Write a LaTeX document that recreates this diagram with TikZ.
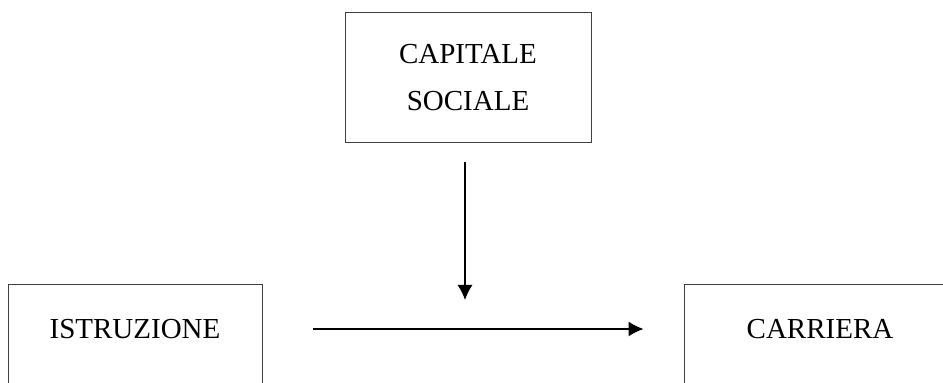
\documentclass[tikz,border=0pt]{standalone}
\usepackage{fontspec}
\setmainfont{Liberation Serif}
\usetikzlibrary{arrows.meta}

\begin{document}
\begin{tikzpicture}[x=1pt, y=1pt,
    box/.style={draw=black!75, line width=1pt, inner sep=0pt, align=center,
        font=\fontsize{29}{47}\selectfont},
    lowbox/.style={box, anchor=north, text height=54pt, text depth=76pt},
    freccia/.style={line width=1.2pt, -{Latex[length=15pt, width=15pt]}}]
    \clip (0, 0) rectangle (943, 383);

    \node[box, minimum width=246pt, minimum height=130pt] (capitale) at (468, 305) {CAPITALE\\SOCIALE};
    \node[lowbox, minimum width=254pt] (istruzione) at (135, 99) {ISTRUZIONE};
    \node[lowbox, minimum width=272pt] (carriera) at (820, 99) {CARRIERA};

    \coordinate (mid) at (465, 54);
    \draw[freccia] ([xshift=50pt]istruzione.east |- mid) -- ([xshift=-40pt]carriera.west |- mid);
    \draw[freccia] ([yshift=-19pt]capitale.south -| mid) -- ([yshift=29pt]mid);
\end{tikzpicture}
\end{document}
